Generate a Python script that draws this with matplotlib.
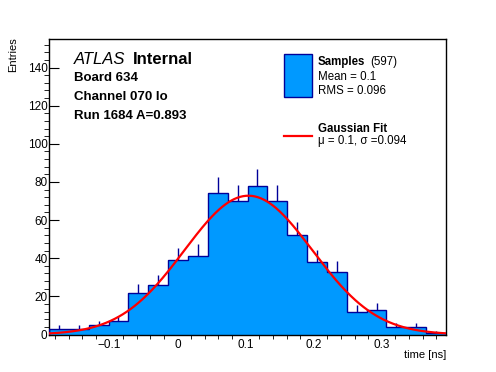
import matplotlib.pyplot as plt
import numpy as np
from matplotlib.patches import Rectangle
from matplotlib.lines import Line2D

plt.rcParams['font.family'] = ['Liberation Sans', 'DejaVu Sans']

# histogram data (20 bins)
x_lo, x_hi = -0.1889, 0.3943
n_bins = 20
counts = [3, 3, 5, 7, 22, 26, 39, 41, 74, 70, 78, 70, 52, 38, 33, 12, 13, 4, 4, 1]

# gaussian fit parameters
fit_amp = 72.8
fit_mu = 0.104
fit_sigma = 0.094

xticks = [-0.1, 0.0, 0.1, 0.2, 0.3]
xtick_labels = ['\u22120.1', '0', '0.1', '0.2', '0.3']
yticks = [0, 20, 40, 60, 80, 100, 120, 140]

fill_col = '#0099ff'
edge_col = '#000099'

W, H = 496, 372
fig = plt.figure(figsize=(W / 100, H / 100), dpi=100)
ax = fig.add_axes([49 / W, 1 - 334.5 / H, (446 - 49) / W, (334.5 - 39) / H])

edges = np.linspace(x_lo, x_hi, n_bins + 1)
counts = np.array(counts, dtype=float)
centers = 0.5 * (edges[:-1] + edges[1:])

# error bars (upper half visible above the fill)
ax.vlines(centers, counts, counts + np.sqrt(counts), color=edge_col, lw=1.0, zorder=1)
ax.stairs(counts, edges, fill=True, color=fill_col, zorder=2)
ax.stairs(counts, edges, baseline=0, color=edge_col, lw=1.0, zorder=3)

xf = np.linspace(x_lo, x_hi, 400)
ax.plot(xf, fit_amp * np.exp(-0.5 * ((xf - fit_mu) / fit_sigma) ** 2),
        color='red', lw=1.6, zorder=4)

ax.set_xlim(x_lo, x_hi)
ax.set_ylim(0, 155)
ax.set_xticks(xticks)
ax.set_xticklabels(xtick_labels)
ax.set_xticks(np.arange(-0.18, 0.39, 0.02), minor=True)
ax.set_yticks(yticks)
ax.set_yticks(np.arange(0, 155, 4), minor=True)
ax.tick_params(direction='in', top=False, right=False, labelsize=8.5)
ax.tick_params(axis='y', which='major', length=7.5, pad=1.0)
ax.tick_params(axis='y', which='minor', length=3.8)
ax.tick_params(axis='x', which='major', length=6, pad=3.5)
ax.tick_params(axis='x', which='minor', length=3)
for s in ax.spines.values():
    s.set_linewidth(1.0)

def ftext(x, y, s, **kw):
    fig.text(x / W, 1 - y / H, s, va='baseline', **kw)

fig.text(13 / W, 1 - 37 / H, 'Entries', rotation=90, ha='center', va='top', fontsize=8)
ftext(446, 358, 'time [ns]', ha='right', fontsize=8)

ftext(73.5, 63.5, 'ATLAS', fontsize=12, style='italic')
ftext(133, 63.5, 'Internal', fontsize=12, fontweight='bold')
ftext(73.5, 81, 'Board 634', fontsize=9.5, fontweight='bold')
ftext(73.5, 100, 'Channel 070 lo', fontsize=9.5, fontweight='bold')
ftext(73.5, 119, 'Run 1684 A=0.893', fontsize=9.5, fontweight='bold')

# legend
fig.patches.append(Rectangle((283.5 / W, 1 - 96.5 / H), 28 / W, 43 / H,
                             transform=fig.transFigure, facecolor=fill_col,
                             edgecolor=edge_col, lw=1.0))
ftext(318, 65, 'Samples', fontsize=8.3, fontweight='bold')
ftext(370, 65, '(597)', fontsize=8.3)
ftext(318, 80, 'Mean = 0.1', fontsize=8.3)
ftext(318, 93.5, 'RMS = 0.096', fontsize=8.3)

fig.lines.append(Line2D([283.5 / W, 311.5 / W], [1 - 136 / H, 1 - 136 / H],
                        transform=fig.transFigure, color='red', lw=1.6))
ftext(318, 132.5, 'Gaussian Fit', fontsize=8.3, fontweight='bold')
ftext(318, 144, '\u03bc = 0.1, \u03c3 =0.094', fontsize=8.3)

fig.savefig('out.png', dpi=100)
